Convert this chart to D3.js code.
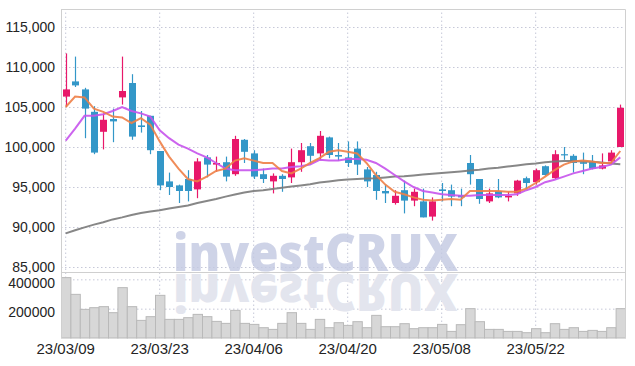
<!DOCTYPE html>
<html>
<head>
<meta charset="utf-8">
<title>investCRUX daily chart</title>
<script src="https://d3js.org/d3.v7.min.js"></script>
<style>
  html, body { margin: 0; padding: 0; background: #fff; }
  svg { display: block; }
  .axis text { font-family: 'Liberation Sans Narrow', 'Liberation Sans', sans-serif; fill: #242424; }
  .grid line { stroke: #c6c8d8; stroke-dasharray: 1.5,2.5; }
</style>
</head>
<body>
<svg class="stockChart"></svg>
<script>
(function () {
  'use strict';

  // trading days shown on the chart
  var dates = [
    '23/03/09', '23/03/10', '23/03/13', '23/03/14', '23/03/15', '23/03/16', '23/03/17', '23/03/20', '23/03/21', '23/03/22',
    '23/03/23', '23/03/24', '23/03/27', '23/03/28', '23/03/29', '23/03/30', '23/03/31', '23/04/03', '23/04/04', '23/04/05',
    '23/04/06', '23/04/07', '23/04/10', '23/04/11', '23/04/12', '23/04/13', '23/04/14', '23/04/17', '23/04/18', '23/04/19',
    '23/04/20', '23/04/21', '23/04/24', '23/04/25', '23/04/26', '23/04/27', '23/04/28', '23/05/02', '23/05/03', '23/05/04',
    '23/05/08', '23/05/09', '23/05/10', '23/05/11', '23/05/12', '23/05/15', '23/05/16', '23/05/17', '23/05/18', '23/05/19',
    '23/05/22', '23/05/23', '23/05/24', '23/05/25', '23/05/26', '23/05/30', '23/05/31', '23/06/01', '23/06/02', '23/06/05'
  ];

  var open = [
    106300, 108200, 107200, 104400, 101900, 103500, 106200, 108000, 102700, 103900,
    99500, 95700, 95200, 96000, 94700, 98700, 97800, 98100, 96600, 100900,
    99200, 96600, 95700, 96400, 96200, 98100, 100100, 99200, 101200, 99000,
    98700, 99800, 97200, 96500, 94500, 93000, 94600, 93300, 93200, 91300,
    94700, 94600, 94000, 98000, 96000, 93200, 94500, 93700, 94200, 96100,
    95600, 97600, 96100, 99100, 98900, 98100, 98100, 97300, 98200, 100000
  ];
  var high = [
    111700, 111300, 107400, 105100, 104200, 104800, 111300, 109100, 104500, 103900,
    99500, 96800, 95300, 97100, 98600, 99000, 98800, 98800, 101400, 101000,
    99600, 97300, 96700, 96600, 99800, 100500, 100500, 102000, 101300, 100500,
    100700, 100700, 97500, 96900, 95300, 94600, 95800, 94800, 94800, 93700,
    95500, 95300, 94800, 99000, 96000, 94800, 96000, 94400, 95900, 96300,
    97300, 97700, 99600, 100000, 99100, 99300, 99000, 99200, 99600, 105300
  ];
  var low = [
    105000, 107500, 101100, 99100, 99700, 100600, 105300, 100900, 101800, 99100,
    94600, 94000, 93000, 93200, 93600, 96200, 96900, 95700, 96400, 98000,
    96000, 95500, 94200, 94400, 95500, 96900, 97800, 98400, 98600, 98300,
    97500, 96500, 95000, 93400, 93000, 92800, 91700, 92600, 91200, 90800,
    93200, 92600, 92600, 95300, 92900, 93000, 93600, 93200, 93900, 94800,
    95300, 96400, 96000, 98400, 96800, 96600, 97200, 97200, 97900, 100000
  ];
  var close = [
    107200, 107700, 104800, 99300, 103400, 103200, 107000, 101300, 102500, 99600,
    95200, 95000, 94500, 94500, 98200, 97800, 98000, 96300, 101000, 99400,
    96300, 96000, 96400, 96000, 98100, 99600, 98900, 101400, 99000, 98800,
    98000, 97800, 95700, 94500, 94200, 93900, 93300, 94400, 91200, 93200,
    94500, 93800, 93700, 96600, 93500, 94200, 93700, 93900, 95800, 95500,
    97100, 96500, 99100, 99000, 98000, 97900, 97300, 97700, 99300, 104900
  ];
  var volume = [
    411600, 297600, 195200, 206800, 213700, 172700, 343300, 213700, 120100, 145400,
    290800, 127000, 127000, 138600, 161100, 145400, 113300, 99700, 188400, 99700,
    92800, 70300, 58700, 99700, 172700, 99700, 58700, 127000, 70300, 104400,
    86000, 111300, 70300, 154300, 77100, 77100, 97600, 63500, 70300, 70300,
    92800, 45000, 90800, 200000, 111300, 58700, 58700, 45000, 45000, 36200,
    63500, 36200, 97600, 58700, 70300, 45000, 51900, 45000, 70300, 200000
  ];

  // moving averages as drawn (orange, purple, grey)
  var ma5 = [
    105000, 106300, 106200, 104800, 104400, 103800, 103700, 103000, 103600, 102800,
    100700, 98800, 97300, 96000, 95700, 96300, 97000, 97300, 98300, 98600,
    98300, 98000, 98000, 97000, 96700, 97300, 98000, 98600, 99400, 99600,
    99400, 99200, 98000, 96500, 95300, 94400, 94100, 93700, 93400, 93300,
    93400, 93500, 93400, 94500, 94500, 94500, 94500, 94400, 94400, 94800,
    95500, 96300, 97100, 97800, 98200, 98300, 98200, 98000, 98000, 99500
  ];
  var ma20 = [
    100800, 102300, 103900, 103900, 104100, 104500, 105000, 104500, 104200, 103800,
    102100, 101100, 100300, 99800, 99200, 98700, 98000, 97300, 97100, 97100,
    97100, 97200, 97300, 97300, 97500, 97600, 97800, 98400, 98300, 98300,
    98500, 98500, 98400, 98000, 97300, 96500, 95700, 95000, 94500, 94300,
    94100, 94000, 93900, 93900, 94000, 94000, 94000, 94000, 94100, 94600,
    95000, 95600, 95900, 96300, 96700, 97000, 97300, 97500, 97800, 98700
  ];
  var ma60 = [
    89200, 89600, 89950, 90300, 90600, 90950, 91200, 91500, 91750, 91950,
    92100, 92300, 92500, 92700, 93000, 93250, 93500, 93800, 94050, 94300,
    94500, 94600, 94750, 94900, 95050, 95200, 95350, 95550, 95700, 95850,
    95950, 96000, 96050, 96100, 96200, 96300, 96350, 96450, 96550, 96650,
    96750, 96850, 96950, 97050, 97150, 97300, 97400, 97550, 97700, 97850,
    97950, 98100, 98200, 98250, 98250, 98200, 98150, 98050, 97950, 97850
  ];

  var priceTicks = [85000, 90000, 95000, 100000, 105000, 110000, 115000];
  var volumeTicks = [200000, 400000];
  var dateTicks = ['23/03/09', '23/03/23', '23/04/06', '23/04/20', '23/05/08', '23/05/22'];

  var UP = '#e8186a';
  var DOWN = '#3397c8';

  function init () {
    draw();
  }

  function draw () {
    var width = 635;
    var height = 366;
    var left = 61;
    var right = 625;
    var top = 9;
    var priceBottom = 272;
    var volBottom = 338;

    var svg = d3.select('.stockChart')
      .attr('width', width)
      .attr('height', height);

    var x = d3.scaleBand()
      .domain(dates)
      .range([left, right])
      .padding(0);
    var bw = x.bandwidth();
    var cx = function (i) { return x(dates[i]) + bw / 2; };

    var y = d3.scaleLinear()
      .domain([84375, 117250])
      .range([priceBottom, top]);

    var yVol = d3.scaleLinear()
      .domain([0, 450000])
      .range([volBottom, priceBottom]);

    svg.append('defs').append('clipPath')
      .attr('id', 'volClip')
      .append('rect')
      .attr('x', left).attr('y', priceBottom)
      .attr('width', right - left).attr('height', volBottom - priceBottom);

    // grid lines
    svg.append('g')
      .attr('class', 'grid')
      .attr('transform', 'translate(' + left + ',0)')
      .call(d3.axisLeft(y).tickValues(priceTicks).tickSize(-(right - left)).tickFormat(''))
      .call(function (g) { g.select('.domain').remove(); });

    svg.append('g')
      .attr('class', 'grid')
      .attr('transform', 'translate(' + left + ',0)')
      .call(d3.axisLeft(yVol).tickValues(volumeTicks).tickSize(-(right - left)).tickFormat(''))
      .call(function (g) { g.select('.domain').remove(); });

    svg.append('g')
      .attr('class', 'grid')
      .attr('transform', 'translate(0,' + volBottom + ')')
      .call(d3.axisBottom(x).tickValues(dateTicks).tickSize(-(volBottom - top)).tickFormat(''))
      .call(function (g) { g.select('.domain').remove(); });

    // watermark + its mirrored copy in the volume panel
    svg.append('text')
      .attr('x', 173)
      .attr('y', 271)
      .attr('textLength', 285)
      .attr('lengthAdjust', 'spacingAndGlyphs')
      .style('font-family', "'Open Sans', 'DejaVu Sans', sans-serif")
      .style('font-weight', 800)
      .style('font-size', '52px')
      .style('fill', '#c3c9e2')
      .style('opacity', 0.8)
      .text('investCRUX');

    svg.append('g')
      .attr('clip-path', 'url(#volClip)')
      .append('text')
      .attr('transform', 'translate(0,545) scale(1,-1)')
      .attr('x', 173)
      .attr('y', 271)
      .attr('textLength', 285)
      .attr('lengthAdjust', 'spacingAndGlyphs')
      .style('font-family', "'Open Sans', 'DejaVu Sans', sans-serif")
      .style('font-weight', 800)
      .style('font-size', '52px')
      .style('fill', '#e3e5ee')
      .text('investCRUX');

    // volume bars
    svg.append('g')
      .selectAll('rect')
      .data(volume)
      .enter()
      .append('rect')
      .attr('x', function (d, i) { return x(dates[i]) + 0.5; })
      .attr('width', bw)
      .attr('y', function (d) { return yVol(d); })
      .attr('height', function (d) { return volBottom - yVol(d); })
      .attr('fill', '#d7d7d7')
      .attr('stroke', '#b9b9b9')
      .attr('stroke-width', 1);

    // candles
    var candles = svg.append('g')
      .selectAll('g')
      .data(dates)
      .enter()
      .append('g');

    candles.append('line')
      .attr('x1', function (d, i) { return Math.round(cx(i)) + 0.5; })
      .attr('x2', function (d, i) { return Math.round(cx(i)) + 0.5; })
      .attr('y1', function (d, i) { return y(high[i]); })
      .attr('y2', function (d, i) { return y(low[i]); })
      .attr('stroke', function (d, i) { return close[i] >= open[i] ? UP : DOWN; })
      .attr('stroke-width', 1.2);

    candles.append('rect')
      .attr('x', function (d, i) { return Math.round(cx(i)) + 0.5 - 3.5; })
      .attr('width', 7)
      .attr('y', function (d, i) { return y(Math.max(open[i], close[i])); })
      .attr('height', function (d, i) {
        return Math.max(1.2, Math.abs(y(open[i]) - y(close[i])));
      })
      .attr('fill', function (d, i) { return close[i] >= open[i] ? UP : DOWN; });

    // moving average lines
    var line = d3.line()
      .x(function (d, i) { return cx(i); })
      .y(function (d) { return y(d); });

    svg.append('path')
      .datum(ma60)
      .attr('d', line)
      .attr('fill', 'none')
      .attr('stroke', '#7a7a7a')
      .attr('stroke-width', 2)
      .attr('opacity', 0.9);

    svg.append('path')
      .datum(ma20)
      .attr('d', line)
      .attr('fill', 'none')
      .attr('stroke', '#c653ec')
      .attr('stroke-width', 2)
      .attr('opacity', 0.9);

    svg.append('path')
      .datum(ma5)
      .attr('d', line)
      .attr('fill', 'none')
      .attr('stroke', '#ee8047')
      .attr('stroke-width', 2)
      .attr('opacity', 0.9);

    // frame
    svg.append('path')
      .attr('d', 'M' + left + ',' + (top + 0.5) + 'H' + (right + 0.5) + 'V' + volBottom)
      .attr('fill', 'none')
      .attr('stroke', '#d0d0d0');
    svg.append('line')
      .attr('x1', left).attr('x2', right)
      .attr('y1', priceBottom + 0.5).attr('y2', priceBottom + 0.5)
      .attr('stroke', '#cfcfcf');
    svg.append('line')
      .attr('x1', left + 0.5).attr('x2', left + 0.5)
      .attr('y1', top).attr('y2', volBottom)
      .attr('stroke', '#cfcfcf');

    // axes
    svg.append('g')
      .attr('class', 'axis')
      .attr('transform', 'translate(' + left + ',0)')
      .call(d3.axisLeft(y).tickValues(priceTicks).tickSize(0).tickPadding(6).tickFormat(d3.format(',')))
      .call(function (g) {
        g.select('.domain').remove();
        g.selectAll('text').attr('dy', '0.3em').style('font-size', '14px');
      });

    svg.append('g')
      .attr('class', 'axis')
      .attr('transform', 'translate(' + left + ',0)')
      .call(d3.axisLeft(yVol).tickValues(volumeTicks).tickSize(0).tickPadding(6).tickFormat(d3.format('d')))
      .call(function (g) {
        g.select('.domain').remove();
        g.selectAll('text').attr('dy', '0.55em').style('font-size', '14px');
      });

    svg.append('g')
      .attr('class', 'axis')
      .attr('transform', 'translate(0,' + volBottom + ')')
      .call(d3.axisBottom(x).tickValues(dateTicks).tickSize(0).tickPadding(5))
      .call(function (g) {
        g.select('.domain').remove();
        g.selectAll('text').style('font-size', '15px');
      });
  }

  window.addEventListener('load', init);
}());
</script>
</body>
</html>
